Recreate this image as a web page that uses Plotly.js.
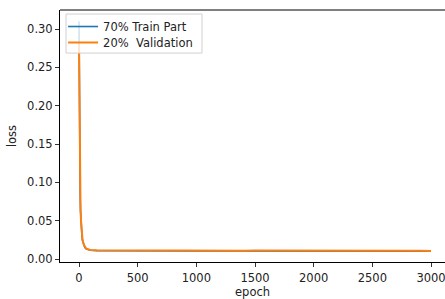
<!DOCTYPE html>
<html><head><meta charset="utf-8">
<script src="https://cdn.plot.ly/plotly-3.0.1.min.js"></script>
<style>html,body{margin:0;padding:0;background:#fff;}#chart{width:445px;height:299px;}</style>
</head><body><div id="chart"></div>
<script>
const epochs = [0,1,2,3,5,7,10,13,17,21,25,30,40,50,60,80,100,150,200,300,400,500,600,700,800,900,1000,1100,1200,1300,1400,1500,1600,1700,1800,1900,2000,2100,2200,2300,2400,2500,2600,2700,2800,2900,2999];
const trainLoss = [0.310,0.265,0.215,0.180,0.138,0.108,0.082,0.063,0.048,0.038,0.030,0.024,0.018,0.0150,0.0134,0.0121,0.0114,0.0110,0.0109,0.0108,0.0108,0.0107,0.0107,0.0107,0.0106,0.0106,0.0106,0.0106,0.0105,0.0105,0.0105,0.0105,0.0105,0.0105,0.0104,0.0104,0.0104,0.0104,0.0104,0.0104,0.0104,0.0103,0.0103,0.0103,0.0103,0.0103,0.0103];
const valLoss = [0.280,0.250,0.210,0.180,0.140,0.110,0.085,0.065,0.050,0.040,0.031,0.025,0.019,0.0155,0.0138,0.0124,0.0117,0.0113,0.0112,0.0111,0.0113,0.0110,0.0112,0.0111,0.0110,0.0112,0.0110,0.0111,0.0110,0.0111,0.0109,0.0111,0.0110,0.0109,0.0110,0.0109,0.0110,0.0108,0.0109,0.0108,0.0109,0.0108,0.0107,0.0108,0.0107,0.0107,0.0106];
const seriesNames = ["70% Train Part", "20%  Validation"];
const xTicks = [0,500,1000,1500,2000,2500,3000];
const yTicks = [0,0.05,0.10,0.15,0.20,0.25,0.30];
const xLabel = "epoch";
const yLabel = "loss";

const font = {family: "DejaVu Sans", size: 11.5, color: "#222"};
const legFont = {family: "DejaVu Sans", size: 11.5, color: "#222"};
const data = [
  {x: epochs, y: trainLoss, name: seriesNames[0], type: "scatter", mode: "lines", line: {color: "#1f77b4", width: 1.6}, legend: "legend"},
  {x: epochs, y: valLoss, name: seriesNames[1], type: "scatter", mode: "lines", line: {color: "#ff7f0e", width: 2}, legend: "legend2"}
];
const legCommon = {xanchor: "left", yanchor: "top", bgcolor: "rgba(0,0,0,0)", borderwidth: 0, font: legFont, itemwidth: 30};
const layout = {
  width: 445, height: 299,
  margin: {l: 60, r: 0, t: 10, b: 37, pad: 0},
  paper_bgcolor: "#fff", plot_bgcolor: "#fff",
  font: font,
  showlegend: true,
  legend: Object.assign({x: 0.008, y: 0.992}, legCommon),
  legend2: Object.assign({x: 0.008, y: 0.9286}, legCommon),
  xaxis: {range: [-162, 3119], tickvals: xTicks, ticktext: xTicks.map(String), ticks: "outside", ticklen: 4, tickwidth: 0.8, tickcolor: "#000", ticklabeloverflow: "allow", ticklabelstandoff: 1, showline: true, linecolor: "#000", linewidth: 1, showgrid: false, zeroline: false},
  yaxis: {range: [-0.0039, 0.3248], tickvals: yTicks, ticktext: yTicks.map(v => v.toFixed(2)), ticks: "outside", ticklen: 4, tickwidth: 0.8, tickcolor: "#000", showline: true, linecolor: "#000", linewidth: 1, showgrid: false, zeroline: false, title: {text: yLabel, font: font, standoff: 8}},
  annotations: [
    {text: xLabel, xref: "paper", yref: "paper", x: 0.5, y: -0.1468, xanchor: "center", yanchor: "bottom", showarrow: false, font: font, borderpad: 0, yshift: -1.5}
  ],
  shapes: [
    {type: "line", xref: "paper", yref: "paper", x0: 0, x1: 1, y0: 1, y1: 1, line: {color: "#000", width: 1}},
    {type: "rect", layer: "above", xref: "paper", yref: "paper", x0: 0.0156, x1: 0.3688, y0: 0.829, y1: 0.984, fillcolor: "rgba(255,255,255,0.8)", line: {color: "#d0d0d0", width: 1}}
  ]
};
Plotly.newPlot("chart", data, layout, {displayModeBar: false, staticPlot: true});
</script></body></html>
